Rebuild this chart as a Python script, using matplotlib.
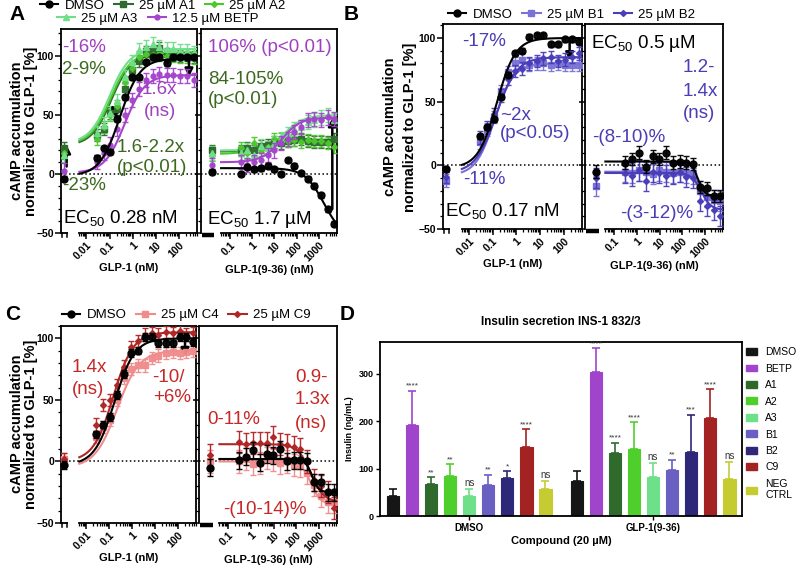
import numpy as np
import matplotlib
matplotlib.use('Agg')
import matplotlib.pyplot as plt
from matplotlib.lines import Line2D
from matplotlib.patches import Patch
from matplotlib.ticker import FixedLocator, MultipleLocator, NullFormatter

plt.rcParams['font.family'] = ['Liberation Sans', 'DejaVu Sans']

# concentrations (nM)
glp1_nm = [0.028, 0.056, 0.11, 0.22, 0.45, 0.9, 1.8, 3.6, 7.2, 14, 29, 57, 115, 230, 460]
glp9_nm = [0.3, 0.6, 1.2, 2.4, 4.9, 9.8, 19.5, 39, 78, 156, 312, 625, 1250, 2500, 5000]

# fit params: [level at low conc, level at high conc, EC50 nM, hill]
# ---- panel A ----
a_dmso = [14, 22, 19, 47, 65, 82, 82, 95, 99, 99, 94, 99, 99, 99, 99]
a_a1 = [33, 38, 52, 55, 72, 88, 96, 104, 104, 107, 102, 101, 100, 101, 99]
a_a2 = [30, 40, 50, 58, 78, 90, 99, 102, 101, 101, 100, 100, 99, 99, 98]
a_a3 = [35, 42, 52, 62, 82, 95, 105, 108, 110, 108, 106, 106, 104, 104, 103]
a_betp = [10, 18, 25, 38, 50, 63, 72, 80, 83, 85, 84, 84, 83, 83, 80]
a_zero = [-4, 22, 18, 16, 3]
a_fit = [[-1.5, 98, 0.28, 1], [24, 102, 0.12, 1], [25, 103, 0.11, 1], [26, 106, 0.10, 1], [1, 84, 0.45, 1]]

a9_dmso = [0, 6, 4, 5, 7, 4, 0, 12, 7, 1, -4, -10, -18, -30, -42]
a9_a1 = [20, 22, 20, 24, 25, 27, 26, 28, 29, 30, 28, 27, 27, 27, 30]
a9_a2 = [22, 18, 26, 20, 23, 30, 30, 28, 29, 27, 29, 28, 28, 26, 23]
a9_a3 = [18, 20, 16, 24, 22, 26, 30, 34, 38, 40, 44, 46, 48, 50, 46]
a9_betp = [10, 8, 10, 12, 16, 20, 26, 30, 36, 40, 46, 47, 46, 48, 47]
a9_zero = [2, 20, 16, 18, 8]
a9_fit = [[5, -55, 1700, 1], [19, 29, 3, 1], [17, 29, 2, 1], [20, 50, 30, 1], [10, 48, 20, 1]]

# ---- panel B ----
b_dmso = [23, 30, 36, 54, 71, 88, 90, 101, 102, 102, 95, 95, 99, 99, 97]
b_b1 = [18, 28, 38, 58, 73, 80, 83, 79, 80, 80, 79, 80, 79, 79, 79]
b_b2 = [22, 30, 40, 55, 68, 74, 76, 80, 82, 84, 85, 82, 83, 85, 88]
b_zero = [-3, -12, -9]
b_fit = [[-2, 100, 0.15, 1.1], [-8, 80, 0.12, 1.1], [-6, 85, 0.14, 1]]

b9_dmso = [2, 5, 10, -1, 7, 5, 10, 2, 3, 2, 1, -17, -18, -24, -24]
b9_b1 = [-5, -6, -4, -5, -7, -4, -5, -6, -5, -6, -7, -20, -25, -27, -28]
b9_b2 = [-6, -8, -4, -12, -5, -6, -8, -7, -5, -9, -10, -28, -32, -35, -40]
b9_zero = [-5, -16, -10]
b9_fit = [[3, -24, 500, 3], [-5, -28, 600, 2.5], [-6, -35, 700, 2]]

# ---- panel C ----
c_dmso = [22, 30, 36, 54, 71, 88, 90, 101, 101, 96, 96, 96, 101, 101, 97]
c_c4 = [20, 28, 34, 50, 68, 75, 78, 78, 84, 86, 88, 89, 88, 89, 90]
c_c9 = [30, 46, 50, 62, 77, 93, 98, 103, 104, 103, 105, 104, 106, 103, 104]
c_zero = [-3, 2, 2]
c_fit = [[-3, 100, 0.17, 1], [-5, 90, 0.22, 0.9], [0, 105, 0.15, 1]]

c9_dmso = [1, 4, 9, -1, 6, 5, 10, 0, 1, 1, 0, -17, -17, -25, -25]
c9_c4 = [0, 2, -2, -1, 3, 1, -1, 0, -3, -4, -9, -19, -28, -33, -33]
c9_c9 = [16, 14, 15, 15, 15, 20, 14, 13, 12, 10, 0, -15, -20, -25, -38]
c9_zero = [-5, 0, 5]
c9_fit = [[2, -25, 500, 3], [0, -35, 450, 2], [14, -33, 450, 1.5]]

# ---- panel D ----
d_groups = ['DMSO', 'GLP-1(9-36)']
d_compounds = ['DMSO', 'BETP', 'A1', 'A2', 'A3', 'B1', 'B2', 'C9', 'NEG\nCTRL']
d_colors = ['#161616', '#a144cc', '#2f6a2c', '#4fcf2c', '#6ee089', '#6a60c2', '#2e2879', '#a32322', '#c5cc32']
d_dmso_mean = [42, 192, 67, 85, 42, 66, 81, 146, 56]
d_dmso_sem = [14, 72, 15, 24, 16, 21, 14, 37, 17]
d_dmso_sig = ['', '****', '**', '**', 'ns', '**', '*', '****', 'ns']
d_glp_mean = [73, 303, 132, 141, 82, 97, 136, 207, 77]
d_glp_sem = [22, 51, 23, 57, 30, 22, 78, 60, 37]
d_glp_sig = ['', '****', '****', '****', 'ns', '**', '***', '****', 'ns']

purple = '#a544cc'
dgreen = '#2f6b2f'
bgreen = '#4cc82c'
lgreen = '#6fdf8a'
b1_col = '#7b72d6'
b2_col = '#4a3db8'
c4_col = '#f08c8c'
c9_col = '#b02525'
t_purple = '#a040c0'
t_green = '#3b6a1e'
t_blue = '#4a3db5'
t_red = '#c62828'

W, H = 800, 572
fig = plt.figure(figsize=(8, 5.72), dpi=100)


def box(x0, y0, x1, y1):
    return [x0 / W, 1 - y1 / H, (x1 - x0) / W, (y1 - y0) / H]


def four_pl(x, lo, hi, ec50, hill):
    return lo + (hi - lo) / (1 + (ec50 / x) ** hill)


def ptext(x, y, s, color='black', size=13.5, **kw):
    fig.text(x / W, 1 - y / H, s, color=color, fontsize=size, ha=kw.pop('ha', 'left'),
             va=kw.pop('va', 'center'), **kw)


LEFT_LIM = (8e-4, 600)
RIGHT_LIM = (0.005, 6500)
ZERO_L = 1.1e-3
ZERO_R = 0.016
fit_xl = np.logspace(np.log10(5e-3), np.log10(600), 200)
fit_xr = np.logspace(np.log10(0.04), np.log10(6500), 200)


def minor_positions(lo, hi):
    out = []
    for e in range(-4, 5):
        for m in range(2, 10):
            v = m * 10.0 ** e
            if lo <= v <= hi:
                out.append(v)
    return out


def setup_pair(axl, axr, ylim, ylab_x):
    for ax, lim, start, majors in ((axl, LEFT_LIM, 5e-3, [0.01, 0.1, 1, 10, 100]),
                                   (axr, RIGHT_LIM, 0.04, [0.1, 1, 10, 100, 1000])):
        ax.set_xscale('log')
        ax.set_xlim(*lim)
        ax.set_ylim(*ylim)
        ax.axhline(0, color='black', ls=':', lw=1.1, zorder=1)
        ax.spines['bottom'].set_bounds(start, lim[1])
        for s in ax.spines.values():
            s.set_linewidth(1.3)
        ax.xaxis.set_major_locator(FixedLocator(majors))
        ax.set_xticklabels([('%g' % m) for m in majors], rotation=45, ha='right',
                           rotation_mode='anchor', fontweight='bold', fontsize=7.5)
        ax.xaxis.set_minor_locator(FixedLocator(minor_positions(start, lim[1])))
        ax.xaxis.set_minor_formatter(NullFormatter())
        ax.set_yticks([-50, 0, 50, 100])
        ax.yaxis.set_minor_locator(MultipleLocator(10))
        ax.tick_params(axis='both', which='major', length=4, width=1.1, pad=1)
        ax.tick_params(axis='both', which='minor', length=2, width=0.9)
        ax.tick_params(axis='y', labelsize=7.5)
        for lab in ax.get_yticklabels():
            lab.set_fontweight('bold')
    axr.set_yticklabels([])
    # broken-axis stubs for the zero point
    tr = axl.get_xaxis_transform()
    axl.plot([8.6e-4, 1.5e-3], [0, 0], transform=tr, color='k', lw=1.3, clip_on=False)
    for xx in (8.6e-4, 1.5e-3):
        axl.plot([xx, xx], [0, -0.02], transform=tr, color='k', lw=1.1, clip_on=False)
    tr = axr.get_xaxis_transform()
    axr.plot([0.0056, 0.02], [-0.008, -0.008], transform=tr, color='k', lw=3.2,
             clip_on=False, solid_capstyle='butt')
    axl.set_xlabel('GLP-1 (nM)', fontweight='bold', fontsize=8, labelpad=1)
    axr.set_xlabel('GLP-1(9-36) (nM)', fontweight='bold', fontsize=8, labelpad=1)


def draw(ax, xs, ys, err, zx, zy, fit, fx, color, marker, ms, z=3):
    ax.errorbar(xs, ys, yerr=err, fmt=marker, color=color, ms=ms, ecolor=color,
                elinewidth=1, capsize=2, capthick=1, zorder=z, alpha=0.95)
    ax.errorbar([zx], [zy], yerr=err, fmt=marker, color=color, ms=ms, ecolor=color,
                elinewidth=1, capsize=2, capthick=1, zorder=z, clip_on=False)
    ax.plot(fx, four_pl(fx, *fit), color=color, lw=1.5, zorder=z)


def legend_row(items, x, y, size=9.5):
    handles = [Line2D([], [], color=c, marker=m, ms=ms, lw=1.5) for c, m, ms, _ in items]
    labels = [lab for *_, lab in items]
    fig.legend(handles, labels, loc='center left', bbox_to_anchor=(x / W, 1 - y / H),
               ncol=len(items), frameon=False, fontsize=size, handlelength=1.4,
               handletextpad=0.45, columnspacing=0.75, borderpad=0, borderaxespad=0)


# ================= Panel A =================
ax_al = fig.add_axes(box(61, 29, 197, 233))
ax_ar = fig.add_axes(box(201, 29, 337, 233))
setup_pair(ax_al, ax_ar, (-50, 123), 24)
a_styles = [('black', 'o', 5, 2, 5), (dgreen, 's', 4.5, 5, 3), (bgreen, 'D', 3, 5, 3),
            (lgreen, '^', 4.5, 6, 3), (purple, 'o', 3.5, 6, 4)]
a_left = [a_dmso, a_a1, a_a2, a_a3, a_betp]
a_right = [a9_dmso, a9_a1, a9_a2, a9_a3, a9_betp]
for i, (col, mk, ms, err, z) in enumerate(a_styles):
    draw(ax_al, glp1_nm, a_left[i], err, ZERO_L, a_zero[i], a_fit[i], fit_xl, col, mk, ms, z)
    draw(ax_ar, glp9_nm, a_right[i], err, ZERO_R, a9_zero[i], a9_fit[i], fit_xr, col, mk, ms, z)

arr = dict(arrowstyle='-|>', color='black', lw=1.8, mutation_scale=12)
ax_al.annotate('', xy=(1.4e-3, 27), xytext=(1.4e-3, 4), arrowprops=arr, annotation_clip=False)
ax_al.annotate('', xy=(270, 80), xytext=(270, 104), arrowprops=arr)
ax_al.annotate('', xy=(0.11, 61), xytext=(0.25, 44), arrowprops=arr)
ax_ar.annotate('', xy=(4000, 50), xytext=(4000, -32), arrowprops=arr)

ptext(62, 47, '-16%', t_purple)
ptext(62, 69, '2-9%', t_green)
ptext(142, 90, '1.6x', t_purple)
ptext(144, 111, '(ns)', t_purple)
ptext(117, 148, '1.6-2.2x', t_green)
ptext(117, 168, '(p<0.01)', t_green)
ptext(62, 186, '-23%', t_green)
ptext(63, 219, r'EC$_{\mathregular{50}}$ 0.28 nM')
ptext(208, 47, '106% (p<0.01)', t_purple)
ptext(208, 79, '84-105%', t_green)
ptext(208, 100, '(p<0.01)', t_green)
ptext(207, 219, r'EC$_{\mathregular{50}}$ 1.7 µM')

legend_row([('black', 'o', 5, 'DMSO'), (dgreen, 's', 4.5, '25 µM A1'), (bgreen, 'D', 3, '25 µM A2')], 40, 6)
legend_row([(lgreen, '^', 4.5, '25 µM A3'), (purple, 'o', 3.5, '12.5 µM BETP')], 57, 19)

# ================= Panel B =================
ax_bl = fig.add_axes(box(443, 24, 582, 229))
ax_br = fig.add_axes(box(585, 24, 723, 229))
setup_pair(ax_bl, ax_br, (-50, 111), 0)
b_styles = [('black', 'o', 5, 2, 5), (b1_col, 's', 4.5, 5, 3), (b2_col, 'D', 3, 5, 4)]
b_left = [b_dmso, b_b1, b_b2]
b_right = [b9_dmso, b9_b1, b9_b2]
for i, (col, mk, ms, err, z) in enumerate(b_styles):
    draw(ax_bl, glp1_nm, b_left[i], err, ZERO_L, b_zero[i], b_fit[i], fit_xl, col, mk, ms, z)
    draw(ax_br, glp9_nm, b_right[i], err + 3, ZERO_R, b9_zero[i], b9_fit[i], fit_xr, col, mk, ms, z)
ax_bl.annotate('', xy=(180, 80), xytext=(180, 100), arrowprops=arr)

ptext(462, 42, '-17%', t_blue)
ptext(500, 115, '~2x', t_blue)
ptext(500, 134, '(p<0.05)', t_blue)
ptext(463, 180, '-11%', t_blue)
ptext(445, 212, r'EC$_{\mathregular{50}}$ 0.17 nM')
ptext(591, 43, r'EC$_{\mathregular{50}}$ 0.5 µM')
ptext(683, 68, '1.2-', t_blue)
ptext(683, 91, '1.4x', t_blue)
ptext(683, 114, '(ns)', t_blue)
ptext(592, 137, '-(8-10)%', t_blue)
ptext(620, 213, '-(3-12)%', t_blue)

legend_row([('black', 'o', 5, 'DMSO'), (b1_col, 's', 4.5, '25 µM B1'), (b2_col, 'D', 3, '25 µM B2')], 448, 15)

# ================= Panel C =================
ax_cl = fig.add_axes(box(61, 326, 196, 523))
ax_cr = fig.add_axes(box(199, 326, 337, 523))
setup_pair(ax_cl, ax_cr, (-50, 110), 0)
c_styles = [('black', 'o', 5, 3, 5), (c4_col, 's', 4.5, 5, 3), (c9_col, 'D', 3, 5, 4)]
c_left = [c_dmso, c_c4, c_c9]
c_right = [c9_dmso, c9_c4, c9_c9]
for i, (col, mk, ms, err, z) in enumerate(c_styles):
    draw(ax_cl, glp1_nm, c_left[i], err, ZERO_L, c_zero[i], c_fit[i], fit_xl, col, mk, ms, z)
    draw(ax_cr, glp9_nm, c_right[i], err + 4, ZERO_R, c9_zero[i], c9_fit[i], fit_xr, col, mk, ms, z)
ax_cl.annotate('', xy=(200, 83), xytext=(200, 103), arrowprops=arr)

ptext(72, 368, '1.4x', t_red)
ptext(72, 389, '(ns)', t_red)
ptext(152, 377, '-10/', t_red)
ptext(153, 398, '+6%', t_red)
ptext(207, 420, '0-11%', t_red)
ptext(295, 377, '0.9-', t_red)
ptext(295, 400, '1.3x', t_red)
ptext(295, 423, '(ns)', t_red)
ptext(223, 510, '-(10-14)%', t_red)

legend_row([('black', 'o', 5, 'DMSO'), (c4_col, 's', 4.5, '25 µM C4'), (c9_col, 'D', 3, '25 µM C9')], 62, 315)

# y labels for the curve panels
for x1, x2, yc in ((17, 31, 131), (390, 410, 127), (17, 31, 424)):
    ptext(x1, yc, 'cAMP accumulation', size=10.5, fontweight='bold', rotation=90, ha='center')
    ptext(x2, yc, 'normalized to GLP-1 [%]', size=10.5, fontweight='bold', rotation=90, ha='center')

# ================= Panel D =================
ax_d = fig.add_axes(box(380, 342, 742, 516))
group_gap = 9.66
for g, (means, sems, sigs) in enumerate(((d_dmso_mean, d_dmso_sem, d_dmso_sig),
                                         (d_glp_mean, d_glp_sem, d_glp_sig))):
    xs = np.arange(len(means)) - 4 + g * group_gap
    ax_d.bar(xs, means, width=0.66, color=d_colors, edgecolor=d_colors, lw=0.8, zorder=2)
    for x, m, s, c, sig in zip(xs, means, sems, d_colors, sigs):
        ax_d.errorbar([x], [m], yerr=[[0], [s]], fmt='none', ecolor=c, elinewidth=1.2,
                      capsize=3, capthick=1.2, zorder=3)
        if sig:
            ax_d.text(x, m + s + 2, sig, ha='center', va='bottom', fontsize=6 if sig != 'ns' else 7,
                      color='#333333')
ax_d.set_xlim(-4.68, 14.33)
ax_d.set_ylim(0, 367)
ax_d.set_xticks([0, group_gap])
ax_d.set_xticklabels(d_groups, fontweight='bold', fontsize=7)
ax_d.set_yticks([0, 100, 200, 300])
for lab in ax_d.get_yticklabels():
    lab.set_fontweight('bold')
ax_d.tick_params(axis='y', labelsize=6.5, length=3, width=1, pad=1.5)
ax_d.tick_params(axis='x', length=3, width=1, pad=2)
for s in ax_d.spines.values():
    s.set_linewidth(1.3)
ax_d.set_title('Insulin secretion INS-1 832/3', fontweight='bold', fontsize=8.5, pad=12)
ax_d.set_ylabel('Insulin (ng/mL)', fontweight='bold', fontsize=6.5, labelpad=3)
ax_d.set_xlabel('Compound (20 µM)', fontweight='bold', fontsize=8, labelpad=2)
handles = [Patch(facecolor=c, edgecolor=c) for c in d_colors]
ax_d.legend(handles, d_compounds, loc='upper left', bbox_to_anchor=(1.012, 0.97), frameon=False,
            fontsize=7.5, handlelength=1.0, handleheight=0.65, handletextpad=0.8,
            labelspacing=0.62, borderpad=0, borderaxespad=0)

# panel letters
ptext(17, 15, 'A', size=15, fontweight='bold', ha='center')
ptext(351, 15, 'B', size=15, fontweight='bold', ha='center')
ptext(13, 314, 'C', size=15, fontweight='bold', ha='center')
ptext(347, 314, 'D', size=15, fontweight='bold', ha='center')

fig.savefig('out.png', dpi=100)
